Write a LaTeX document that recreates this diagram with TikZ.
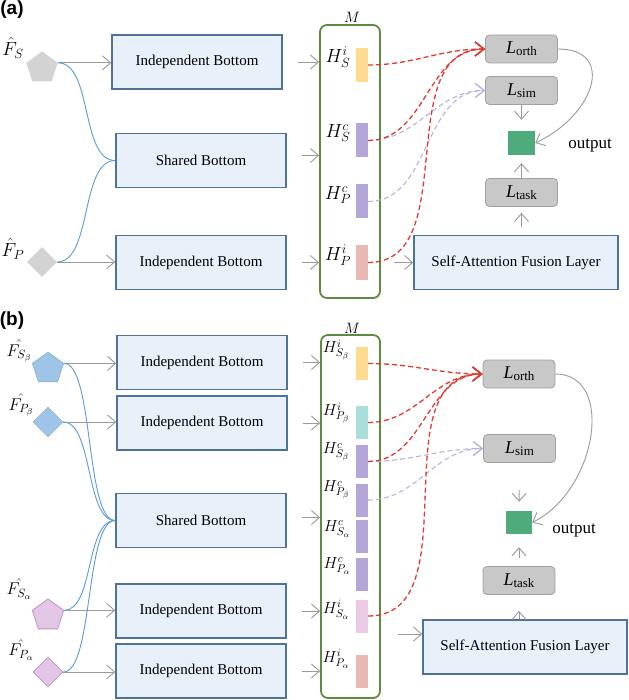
\RequirePackage{fix-cm}
\documentclass[tikz,border=0pt]{standalone}
\usepackage{fontspec}
\setmainfont{Liberation Serif}
\newfontfamily\labfont{Liberation Sans}
\usetikzlibrary{shapes.geometric,arrows.meta,calc}
\definecolor{boxfill}{HTML}{E8F0FA}
\definecolor{boxdraw}{HTML}{4F7396}
\definecolor{arrgray}{HTML}{9A9A9A}
\definecolor{curveblue}{HTML}{5B9BD5}
\definecolor{mgreen}{HTML}{5E8C3F}
\definecolor{lossfill}{HTML}{C8C8C8}
\definecolor{lossdraw}{HTML}{A0A0A0}
\definecolor{sqgreen}{HTML}{4DAB7C}
\definecolor{dred}{HTML}{E03A33}
\definecolor{dpurple}{HTML}{B4B4E0}
\definecolor{cyellow}{HTML}{FDDB8F}
\definecolor{cpurple}{HTML}{B5A6D8}
\definecolor{csalmon}{HTML}{E9B8B2}
\definecolor{cteal}{HTML}{A9DED9}
\definecolor{cpink}{HTML}{EBCBE3}
\definecolor{shgray}{HTML}{D3D3D3}
\definecolor{shblue}{HTML}{9EC5E8}
\definecolor{shpink}{HTML}{E3C6E5}
\definecolor{shpinkd}{HTML}{B897C2}
\newcommand\Lname[1]{{\fontsize{18}{20}\selectfont\textit{L}}{\fontsize{13}{14}\selectfont\raisebox{-0.35ex}{#1}}}
\tikzset{
  bbox/.style={draw=boxdraw, line width=1.6pt, fill=boxfill, minimum width=170pt, minimum height=54pt, inner sep=0pt, font=\fontsize{15}{18}\selectfont},
  lossbox/.style={draw=lossdraw, fill=lossfill, rounded corners=4pt, minimum width=72pt, minimum height=28pt, inner sep=0pt, line width=0.8pt},
  gsq/.style={fill=sqgreen, minimum width=27pt, minimum height=24pt, inner sep=0pt},
  mbox/.style={draw=mgreen, line width=1.8pt, rounded corners=7pt, minimum width=60pt, inner sep=0pt},
  bar/.style={minimum width=12pt, minimum height=34pt, inner sep=0pt},
  harr/.style={draw=arrgray, line width=0.9pt, -{Straight Barb[length=8pt,width=14pt]}},
  bcurve/.style={draw=curveblue, line width=0.9pt},
  reddash/.style={draw=dred, line width=1.3pt, dash pattern=on 5pt off 3pt, -{Straight Barb[length=9pt,width=14pt]}},
  purdash/.style={draw=dpurple, line width=1.1pt, dash pattern=on 5pt off 3pt, -{Straight Barb[length=9pt,width=14pt]}},
  pent/.style={regular polygon, regular polygon sides=5, minimum size=33pt, inner sep=0pt},
  diam/.style={diamond, minimum size=30pt, inner sep=0pt},
  hlab/.style={inner sep=0pt, font=\fontsize{19}{22}\selectfont},
  hlabb/.style={inner sep=0pt, font=\fontsize{16}{18}\selectfont},
  flabb/.style={inner sep=0pt, font=\fontsize{17}{20}\selectfont},
  plab/.style={inner sep=0pt, font=\fontsize{19}{22}\selectfont\labfont\bfseries},
  outlab/.style={inner sep=0pt, font=\fontsize{17}{20}\selectfont}
}
\begin{document}
\begin{tikzpicture}[x=1pt,y=-1pt]
\useasboundingbox (0,0) rectangle (628,700);
% ================= (a) =================
\node[plab] (la) at (12,10) {(a)};
\node[pent, fill=shgray] (pa) at (42,68) {};
\node[diam, fill=shgray] (da) at (42,262) {};
\node[hlab] (fla) at (13,48) {$\hat{F}_S$};
\node[hlab] (flb) at (13,249) {$\hat{F}_P$};
\node[bbox] (ib1) at (197,62) {Independent Bottom};
\node[bbox] (sha) at (201,160.5) {Shared Bottom};
\node[bbox] (ib2) at (201,262.5) {Independent Bottom};
\node[mbox, minimum height=273pt] (ma) at (350,161.5) {};
\node[inner sep=0pt, font=\fontsize{15}{18}\selectfont] (mla) at (352,17) {$M$};
\node[bar, fill=cyellow] (a1) at (362,65) {};
\node[bar, fill=cpurple] (a2) at (362,140.5) {};
\node[bar, fill=cpurple] (a3) at (362,201.5) {};
\node[bar, fill=csalmon] (a4) at (362,262.5) {};
\node[hlab] at (338,57) {$H^i_S$};
\node[hlab] at (338,133) {$H^c_S$};
\node[hlab] at (338,195) {$H^c_P$};
\node[hlab] at (338,255) {$H^i_P$};
\node[lossbox] (lorth) at (521.5,49) {\Lname{orth}};
\node[lossbox] (lsim) at (521.5,90.5) {\Lname{sim}};
\node[gsq] (gsa) at (521.5,143) {};
\node[lossbox] (ltask) at (521.5,192.5) {\Lname{task}};
\node[bbox, minimum width=204pt] (safl) at (516,262.5) {Self-Attention Fusion Layer};
\node[outlab] (oa) at (590,146) {output};
% connectors (a)
\draw[harr] (pa.corner 5) -- (ib1.west |- pa.corner 5);
\draw[harr] (da.east) -- (ib2.west |- da.east);
\draw[bcurve] (pa.corner 5) .. controls +(35,0) and +(-35,0) .. (sha.west);
\draw[bcurve] (da.east) .. controls +(35,0) and +(-35,0) .. (sha.west);
\draw[harr, shorten <=15pt] (ib1.east) -- (ma.west |- ib1.east);
\draw[harr, shorten <=15pt] ($(sha.east)+(0,-5)$) -- (ma.west |- {$(sha.east)+(0,-5)$});
\draw[harr, shorten <=15pt] (ib2.east) -- (ma.west |- ib2.east);
\draw[harr, shorten <=13pt] (ma.east |- safl.west) -- (safl.west);
\draw[purdash] (a2.east) to[out=0,in=180] (lsim.west);
\draw[purdash] (a3.east) to[out=0,in=180] (lsim.west);
\draw[reddash] (a1.east) to[out=0,in=180] (lorth.west);
\draw[reddash] (a2.east) to[out=0,in=180] (lorth.west);
\draw[reddash] (a4.east) to[out=0,in=180] (lorth.west);
\draw[harr, shorten >=11pt] (lsim.south) -- (gsa.north);
\draw[harr, shorten >=8pt] (ltask.north) -- (gsa.south);
\draw[harr, shorten <=8pt, shorten >=6pt] (ltask.south |- safl.north) -- (ltask.south);
\draw[harr] (lorth.east) .. controls +(58,0) and +(60,-28) .. (gsa.east);
% ================= (b) =================
\node[plab] (lb) at (12,321) {(b)};
\node[pent, fill=shblue, draw=shblue!85!black, line width=0.4pt] (pb1) at (48,368.5) {};
\node[diam, fill=shblue, draw=shblue!85!black, line width=0.4pt] (db1) at (48,422) {};
\node[pent, fill=shpink, draw=shpinkd, line width=0.8pt] (pb2) at (48,615.5) {};
\node[diam, fill=shpink, draw=shpinkd, line width=0.8pt] (db2) at (48,672) {};
\node[flabb] at (19,351) {$\hat{F_{S_\beta}}$};
\node[flabb] at (21,405) {$\hat{F_{P_\beta}}$};
\node[flabb] at (19,589) {$\hat{F_{S_\alpha}}$};
\node[flabb] at (21,650) {$\hat{F_{P_\alpha}}$};
\node[bbox] (jb1) at (202,362.5) {Independent Bottom};
\node[bbox] (jb2) at (202,423) {Independent Bottom};
\node[bbox] (shb) at (201,520.5) {Shared Bottom};
\node[bbox] (jb3) at (201,611) {Independent Bottom};
\node[bbox] (jb4) at (201,671) {Independent Bottom};
\node[mbox, minimum width=59pt, minimum height=363pt] (mb) at (350.5,516.5) {};
\node[inner sep=0pt, font=\fontsize{15}{18}\selectfont] (mlb) at (352,328) {$M$};
\node[bar, minimum height=33pt, fill=cyellow] (b1) at (362,363.5) {};
\node[bar, minimum height=33pt, fill=cteal] (b2) at (362,422.5) {};
\node[bar, minimum height=33pt, fill=cpurple] (b3) at (362,461.5) {};
\node[bar, minimum height=33pt, fill=cpurple] (b4) at (362,500) {};
\node[bar, minimum height=33pt, fill=cpurple] (b5) at (362,536.5) {};
\node[bar, minimum height=33pt, fill=cpurple] (b6) at (362,574) {};
\node[bar, minimum height=33pt, fill=cpink] (b7) at (362,616) {};
\node[bar, minimum height=33pt, fill=csalmon] (b8) at (362,671) {};
\node[hlabb] at (336,350) {$H^i_{S_\beta}$};
\node[hlabb] at (336,413) {$H^i_{P_\beta}$};
\node[hlabb] at (336,452) {$H^c_{S_\beta}$};
\node[hlabb] at (336,490) {$H^c_{P_\beta}$};
\node[hlabb] at (337,529) {$H^c_{S_\alpha}$};
\node[hlabb] at (337,566) {$H^c_{P_\alpha}$};
\node[hlabb] at (336,610) {$H^i_{S_\alpha}$};
\node[hlabb] at (336,659) {$H^i_{P_\alpha}$};
\node[lossbox] (morth) at (519,374) {\Lname{orth}};
\node[lossbox] (msim) at (519.5,448.5) {\Lname{sim}};
\node[gsq, minimum width=26pt, minimum height=23pt] (gsb) at (519,522.5) {};
\node[lossbox] (mtask) at (519,580.5) {\Lname{task}};
\node[bbox, minimum width=204pt] (safb) at (525,647) {Self-Attention Fusion Layer};
\node[outlab] (ob) at (574,531) {output};
% connectors (b)
\draw[harr] (pb1.corner 5) -- (jb1.west |- pb1.corner 5);
\draw[harr] (db1.east) -- (jb2.west |- db1.east);
\draw[harr] (pb2.corner 5) -- (jb3.west |- pb2.corner 5);
\draw[harr] (db2.east) -- (jb4.west |- db2.east);
\draw[bcurve] (pb1.corner 5) .. controls +(30,0) and +(-30,0) .. (shb.west);
\draw[bcurve] (db1.east) .. controls +(30,0) and +(-30,0) .. (shb.west);
\draw[bcurve] (pb2.corner 5) .. controls +(30,0) and +(-30,0) .. (shb.west);
\draw[bcurve] (db2.east) .. controls +(30,0) and +(-30,0) .. (shb.west);
\draw[harr, shorten <=15pt] (jb1.east) -- (mb.west |- jb1.east);
\draw[harr, shorten <=15pt] (jb2.east) -- (mb.west |- jb2.east);
\draw[harr, shorten <=15pt] ($(shb.east)+(0,-3)$) -- (mb.west |- {$(shb.east)+(0,-3)$});
\draw[harr, shorten <=15pt] (jb3.east) -- (mb.west |- jb3.east);
\draw[harr, shorten <=15pt] (jb4.east) -- (mb.west |- jb4.east);
\draw[harr, shorten <=17pt] (mb.east |- {$(safb.west)+(0,-13)$}) -- ($(safb.west)+(0,-13)$);
\draw[purdash] (b3.east) to[out=0,in=180] (msim.west);
\draw[purdash] (b4.east) to[out=0,in=180] (msim.west);
\draw[reddash] (b1.east) to[out=0,in=180] (morth.west);
\draw[reddash] (b2.east) to[out=0,in=180] (morth.west);
\draw[reddash] (b3.east) to[out=0,in=180] (morth.west);
\draw[reddash] (b7.east) to[out=0,in=180] (morth.west);
\draw[harr, shorten <=27pt, shorten >=9pt] (msim.south) -- (gsb.north);
\draw[harr, shorten <=8pt, shorten >=13pt] (mtask.north) -- (gsb.south);
\draw[harr, shorten >=16pt] (mtask.south |- safb.north) -- (mtask.south);
\draw[harr] (morth.east) .. controls +(60,0) and +(65,-32) .. (gsb.east);
\end{tikzpicture}
\end{document}
